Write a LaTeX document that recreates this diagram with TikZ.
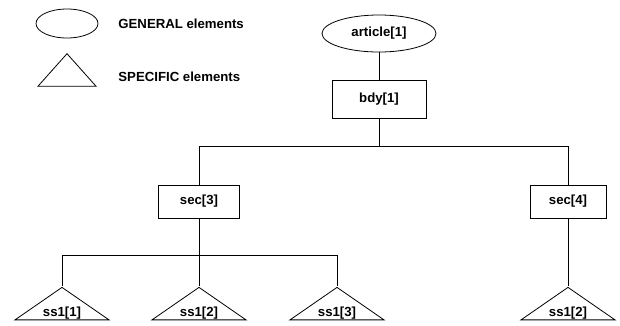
\documentclass[tikz,border=0pt]{standalone}
\usepackage{fontspec}
\setmainfont{Liberation Sans}
\usetikzlibrary{shapes.geometric}

\begin{document}
\begin{tikzpicture}[x=1pt,y=-1pt,line width=0.8pt,
    every node/.style={font=\fontsize{13.2}{15}\selectfont\bfseries},
    gen/.style={draw,ellipse,inner sep=0pt},
    box/.style={draw,rectangle,inner sep=0pt},
    spec/.style={draw,isosceles triangle,shape border rotate=90,
      isosceles triangle stretches,inner sep=0pt,minimum width=94pt,minimum height=32.5pt},
    lbl/.style={anchor=west,inner sep=0pt}]
    \useasboundingbox (0,0) rectangle (620,325);

    % legend
    \node [gen,minimum width=62pt,minimum height=29pt] (legGen) at (67,23.5) {};
    \node [lbl] (txtGen) at (118,23.3) {GENERAL elements};
    \node [spec,minimum width=58pt] (legSpec) at (67,73.2) {};
    \node [lbl] (txtSpec) at (118,76.8) {SPECIFIC elements};

    % tree
    \node [gen,minimum width=114pt,minimum height=37pt] (article) at (379,33.5) {article[1]};
    \node [box,minimum width=94pt,minimum height=38pt] (bdy) at (379,99) {bdy[1]};
    \node [box,minimum width=81pt,minimum height=33pt] (sec3) at (199,201.5) {sec[3]};
    \node [box,minimum width=76pt,minimum height=33pt] (sec4) at (568,201.5) {sec[4]};

    % leaves
    \foreach \name/\xpos/\txt in {ss1a/62/ss1[1], ss1b/199/ss1[2], ss1c/337/ss1[3], ss1d/568/ss1[2]}{
      \node [spec] (\name) at (\xpos,305.2) {};
      \node (\name txt) at (\xpos,312.8) {\txt};
    }

    \coordinate (busTop) at (379,146.5);
    \coordinate (busSec) at (199,255.5);

    \draw (article) -- (bdy);
    \draw (bdy) -- (busTop);
    \draw (sec3.north) |- (busTop) -| (sec4.north);
    \draw (sec3.south) -- (busSec);
    \draw (ss1a.apex) |- (busSec) -| (ss1c.apex);
    \draw (ss1b.apex) -- (busSec);
    \draw (sec4.south) -- (ss1d.apex);
\end{tikzpicture}
\end{document}
